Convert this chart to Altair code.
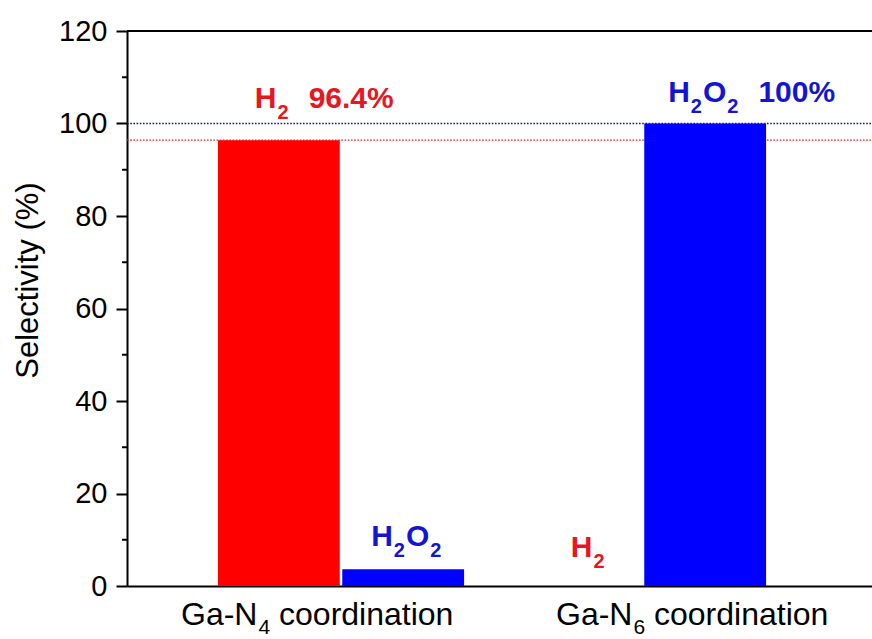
import altair as alt
import pandas as pd

# Product selectivity (%) on the two Ga coordination sites
sites = ["Ga-N4", "Ga-N6"]
site_subscripts = ["4", "6"]
products = ["H2", "H2O2"]
h2_selectivity = [96.4, 0.0]
h2o2_selectivity = [3.6, 100.0]
y_ticks = [0, 20, 40, 60, 80, 100, 120]
y_minor_ticks = [10, 30, 50, 70, 90, 110]

FONT = "Liberation Sans"
BAR_COLORS = {"H2": "#ff0000", "H2O2": "#0000ff"}
TEXT_COLORS = {"H2": "#e8161e", "H2O2": "#1414d4"}
W, H = 745, 555

bars = pd.DataFrame({
    "site": [s for s in sites for _ in products],
    "product": products * len(sites),
    "value": [v for pair in zip(h2_selectivity, h2o2_selectivity) for v in pair],
})


def lookup(site, product):
    row = bars[(bars.site == site) & (bars["product"] == product)]
    return float(row.value.iloc[0])


x_enc = alt.X(
    "site:N",
    scale=alt.Scale(domain=sites, paddingInner=0.185, paddingOuter=0.326, align=0.462),
    axis=alt.Axis(labels=False, ticks=False, title=None, domainColor="black",
                  domainWidth=2, grid=False),
)
xo_enc = alt.XOffset("product:N",
                     scale=alt.Scale(domain=products, paddingInner=0.02, paddingOuter=0))
y_enc = alt.Y(
    "value:Q",
    scale=alt.Scale(domain=[0, 120], nice=False, zero=True),
    axis=alt.Axis(
        values=y_ticks, grid=False,
        title="Selectivity (%)", titleFont=FONT, titleFontSize=31,
        titleFontWeight="normal", titleColor="black", titleAngle=270,
        titleAlign="center", titleBaseline="alphabetic", titleX=-90, titleY=249,
        labelFont=FONT, labelFontSize=29, labelColor="black", labelPadding=9,
        tickSize=11, tickWidth=2, tickColor="black",
        domainColor="black", domainWidth=2,
    ),
)

layers = []

# dotted guide lines at the top of the tallest bar of each product
guides = pd.DataFrame({
    "value": [max(h2o2_selectivity), max(h2_selectivity)],
    "product": ["H2O2", "H2"],
})
for prod, col in [("H2O2", "#10108a"), ("H2", "#d82020")]:
    layers.append(
        alt.Chart(guides[guides["product"] == prod])
        .mark_rule(color=col, strokeWidth=1.4, strokeDash=[1.6, 1.6])
        .encode(y=y_enc, x=alt.value(0), x2=alt.value(W))
    )

# bars
layers.append(
    alt.Chart(bars).mark_bar().encode(
        x=x_enc, xOffset=xo_enc, y=y_enc,
        color=alt.Color("product:N",
                        scale=alt.Scale(domain=list(BAR_COLORS), range=list(BAR_COLORS.values())),
                        legend=None),
    )
)

# top frame line and minor ticks on the y axis
layers.append(
    alt.Chart(pd.DataFrame({"value": [y_ticks[-1]]}))
    .mark_rule(color="black", strokeWidth=2)
    .encode(y=y_enc, x=alt.value(0), x2=alt.value(W))
)
layers.append(
    alt.Chart(pd.DataFrame({"value": y_minor_ticks}))
    .mark_rule(color="black", strokeWidth=2)
    .encode(y=y_enc, x=alt.value(-5), x2=alt.value(0))
)

# chemical-formula annotations: main glyphs and lowered subscripts
MAIN, SUB = 30, 20
EM_BOLD = {"H": 0.722, "O": 0.778, "2": 0.556}
annotations = [
    dict(site="Ga-N4", product="H2", dx=-24, dy=-32, percent=True),
    dict(site="Ga-N6", product="H2O2", dx=-37, dy=-22, percent=True),
    dict(site="Ga-N4", product="H2O2", dx=-32, dy=-23, percent=False),
    dict(site="Ga-N6", product="H2", dx=-10, dy=-29, percent=False),
]


def text_layer(row, text, **mark):
    df = pd.DataFrame([{**row, "text": text}])
    enc = dict(x=x_enc, y=y_enc, text="text:N")
    if "product" in row:
        enc["xOffset"] = xo_enc
    return alt.Chart(df).mark_text(font=FONT, align="left", baseline="alphabetic",
                                   **mark).encode(**enc)


for a in annotations:
    value = lookup(a["site"], a["product"])
    row = {"site": a["site"], "product": a["product"], "value": value}
    color = TEXT_COLORS[a["product"]]
    cursor = a["dx"]
    for ch in a["product"]:
        sub = ch.isdigit()
        size = SUB if sub else MAIN
        layers.append(text_layer(row, ch, dx=cursor, dy=a["dy"] + (11 if sub else 0),
                                 fontSize=size, fontWeight="bold", color=color))
        cursor += EM_BOLD[ch] * size + 1
    if a["percent"]:
        cursor += 19
        layers.append(text_layer(row, f"{value:g}%", dx=cursor, dy=a["dy"],
                                 fontSize=MAIN, fontWeight="bold", color=color))

# category labels under the axis (Ga-N with subscripted coordination number)
LBL, LBL_SUB = 32, 21
site_label_dx = {"Ga-N4": -160, "Ga-N6": -87}
for site, num in zip(sites, site_subscripts):
    row = {"site": site, "value": 0.0}
    x0 = site_label_dx[site]
    head_w = (0.778 + 0.556 + 0.333 + 0.722) * LBL
    layers.append(text_layer(row, "Ga-N", dx=x0, dy=39, fontSize=LBL, color="black"))
    layers.append(text_layer(row, num, dx=x0 + head_w + 1, dy=48, fontSize=LBL_SUB,
                             color="black"))
    layers.append(text_layer(row, "coordination",
                             dx=x0 + head_w + 1 + 0.556 * LBL_SUB + 0.278 * LBL,
                             dy=39, fontSize=LBL, color="black"))

chart = (
    alt.layer(*layers)
    .properties(width=W, height=H,
                padding={"left": 127, "top": 31, "right": 0, "bottom": 53},
                autosize=alt.AutoSizeParams(type="none"),
                background="white")
    .configure_view(stroke=None)
)

chart.save("out.html", embed_options={"renderer": "svg", "actions": False})
